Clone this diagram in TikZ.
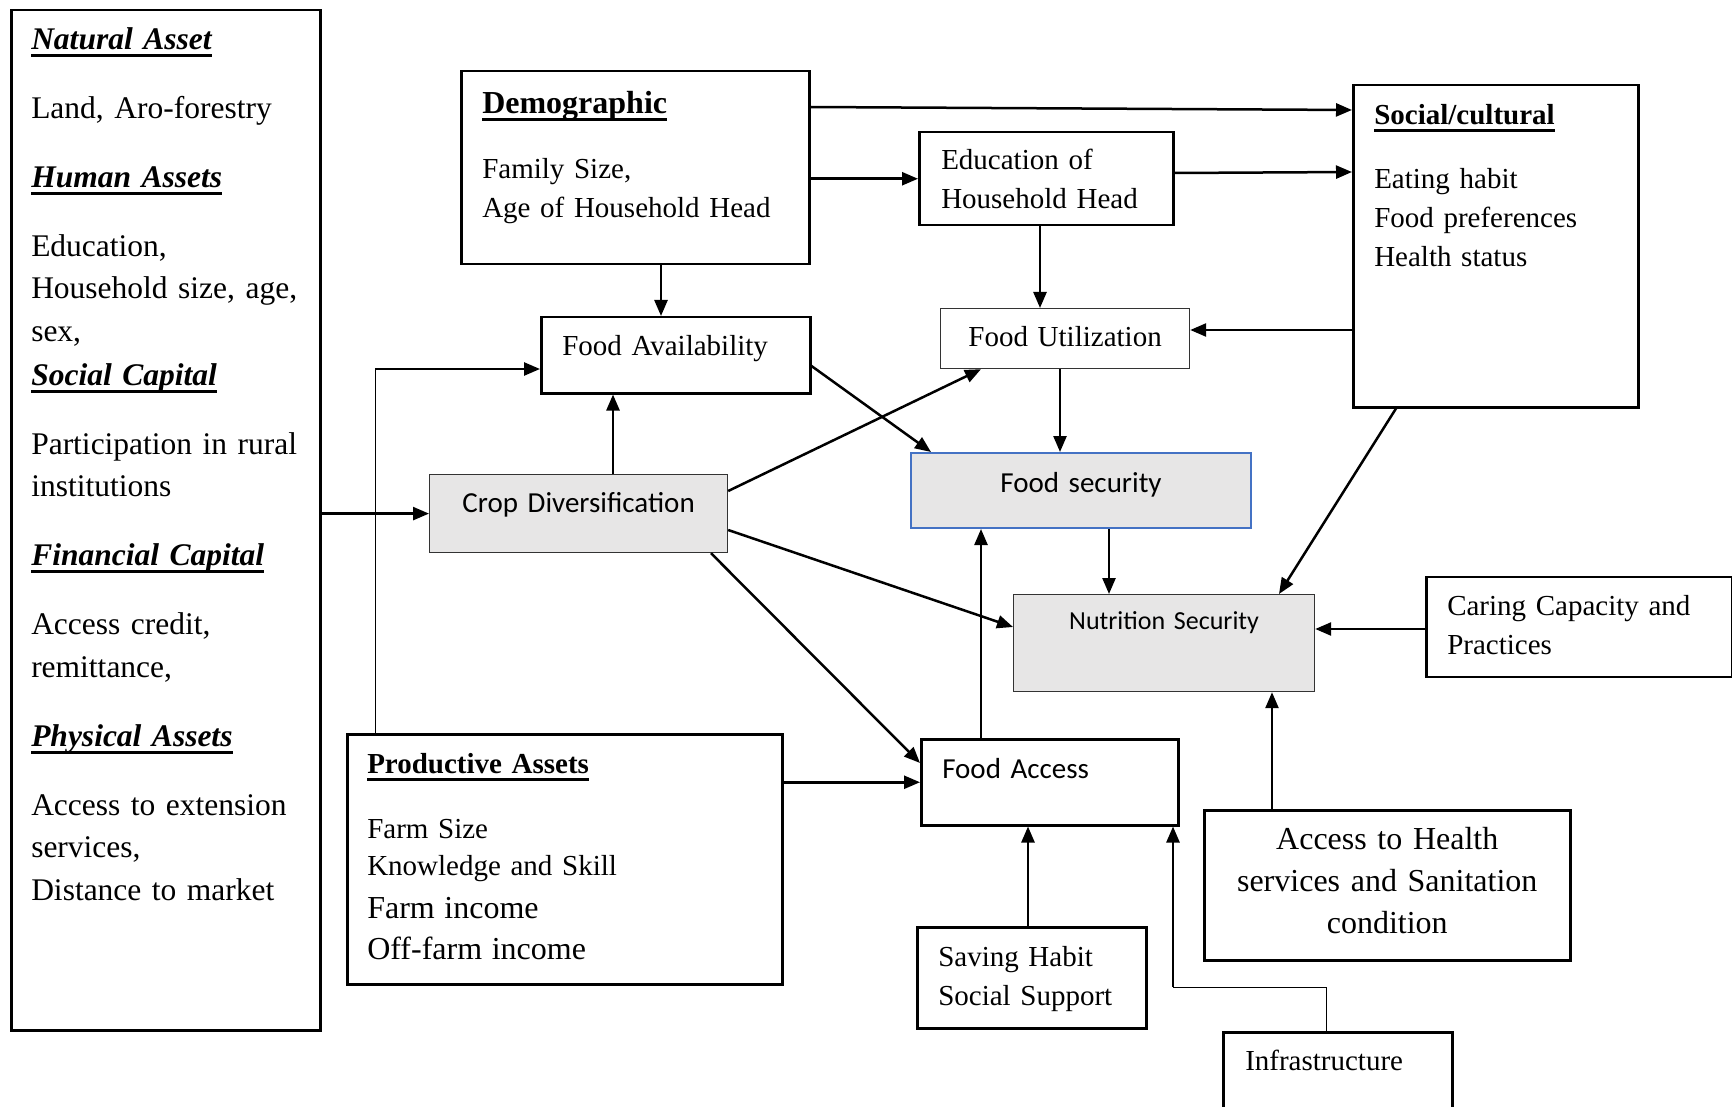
\documentclass[tikz,border=0pt]{standalone}
\usepackage{fontspec}
\setmainfont{Liberation Serif}
\newfontfamily\calib{Carlito}
\usetikzlibrary{arrows.meta}
\definecolor{boxgray}{HTML}{E7E6E6}
\definecolor{secblue}{HTML}{4472C4}
\newcommand\ulbox[1]{\leavevmode\setbox0\hbox{#1}\rlap{\rule[-7.3pt]{\wd0}{2.8pt}}\box0}
\newcommand\headit[1]{{\bfseries\itshape\ulbox{#1}}}
\newcommand\headbf[1]{{\bfseries\ulbox{#1}}}
\tikzset{box/.style={draw,line width=2.5pt,anchor=north west,align=left,inner ysep=0pt,inner xsep=21pt,font=\fontsize{29}{39}\selectfont},
  thinbox/.style={box,line width=1.2pt,draw=black!80,align=center,inner xsep=8pt},
  shade/.style={thinbox,fill=boxgray,font=\calib\fontsize{29}{39}\selectfont},
  keybox/.style={shade,draw=secblue,line width=2pt},
  arr/.style={-{Triangle[length=16pt,width=13pt]},line width=2.5pt},
  feed/.style={line width=1pt}}
\begin{document}
\begin{tikzpicture}[x=1pt,y=-1pt]
\useasboundingbox (0,0) rectangle (1732,1107);
\node[box,inner xsep=20pt,text width=269pt,text height=39pt,text depth=981pt,font=\fontsize{31.5}{42.5}\selectfont] (assets) at (10,9)
 {\headit{Natural Asset}\\[26.5pt]
  Land, Aro-forestry\\[26.5pt]
  \headit{Human Assets}\\[26.5pt]
  Education,\\
  \mbox{Household size, age,}\\
  sex,\\[1.5pt]
  \headit{Social Capital}\\[26.5pt]
  \mbox{Participation in rural}\\
  institutions\\[26.5pt]
  \headit{Financial Capital}\\[26.5pt]
  Access credit,\\
  remittance,\\[26.5pt]
  \headit{Physical Assets}\\[26.5pt]
  \mbox{Access to extension}\\
  services,\\
  Distance to market};
\node[box,text width=306pt,text height=42pt,text depth=151pt] (demo) at (460,70)
 {{\fontsize{32}{39}\selectfont\headbf{Demographic}}\\[26pt]
  Family Size,\\
  Age of Household Head};
\node[box,inner xsep=22pt,text width=210pt,text height=37pt,text depth=56pt] (edu) at (918,131) {Education of\\Household Head};
\node[box,text width=243pt,text height=39pt,text depth=283pt] (social) at (1352,84)
 {\headbf{Social/cultural}\\[25pt]
  Eating habit\\
  Food preferences\\
  Health status};
\node[box,text width=227pt,text height=38pt,text depth=38pt] (avail) at (540,316) {Food Availability};
\node[thinbox,text width=233pt,text height=38pt,text depth=22pt] (util) at (940,308) {Food Utilization};
\node[shade,text width=282pt,text height=38pt,text depth=40pt] (crop) at (429,474) {Crop Diversification};
\node[keybox,text width=324pt,text height=39pt,text depth=36pt] (fsec) at (910,452) {Food security};
\node[shade,text width=285pt,text height=35pt,text depth=62pt,font=\calib\fontsize{26}{36}\selectfont] (nutri) at (1013,594) {Nutrition Security};
\node[box,text width=264pt,text height=38.5pt,text depth=61.5pt] (caring) at (1425,575.5) {Caring Capacity and\\Practices};
\node[box,text width=215pt,text height=39pt,text depth=47pt,font=\calib\fontsize{29}{39}\selectfont] (access) at (920,738) {Food Access};
\node[box,inner xsep=20pt,text width=395pt,text height=39pt,text depth=211pt,font=\fontsize{29}{37.5}\selectfont] (prod) at (346,733)
 {\headbf{Productive Assets}\\[27.5pt]
  Farm Size\\
  Knowledge and Skill\\[5pt]
  {\fontsize{32}{37.5}\selectfont Farm income}\\[4pt]
  {\fontsize{32}{37.5}\selectfont Off-farm income}};
\node[box,text width=187pt,text height=39pt,text depth=62pt] (save) at (916,926) {Saving Habit\\Social Support};
\node[box,align=center,inner xsep=10pt,text width=346pt,text height=39pt,text depth=111pt,font=\fontsize{32}{42}\selectfont] (health) at (1203,809)
 {Access to Health\\services and Sanitation\\condition};
\node[box,inner xsep=22pt,text width=185pt,text height=38pt,text depth=112pt] (infra) at (1222,1031) {Infrastructure};
\coordinate (prodbend) at (375,369);
\coordinate (infrabend) at (1173,987);
\draw[arr] (assets.east |- crop.west) -- (crop.west);
\draw[arr] (demo.east |- 0,107) -- (social.west |- 0,110);
\draw[arr] (demo.east |- edu.west) -- (edu.west);
\draw[arr] (edu.east |- 0,173) -- (social.west |- 0,172);
\draw[arr] (demo.south -| 661,0) -- (avail.north -| 661,0);
\draw[arr] (edu.south -| 1040,0) -- (util.north -| 1040,0);
\draw[arr] (social.west |- 0,330) -- (util.east |- 0,330);
\draw[feed] (prod.north -| prodbend) -- (prodbend);
\draw[arr] (prodbend) -- (avail.west |- prodbend);
\draw[arr] (crop.north -| 613,0) -- (avail.south -| 613,0);
\draw[arr] (avail.east |- 0,366) -- (fsec.north -| 931,0);
\draw[arr] (crop.east |- 0,491) -- (util.south -| 981,0);
\draw[arr] (util.south -| 1060,0) -- (fsec.north -| 1060,0);
\draw[arr] (fsec.south -| 1109,0) -- (nutri.north -| 1109,0);
\draw[arr] (crop.east |- 0,530) -- (nutri.west |- 0,627);
\draw[arr] (crop.south -| 711,0) -- (access.west |- 0,763);
\draw[arr] (social.south -| 1396,0) -- (nutri.north -| 1279,0);
\draw[arr] (caring.west |- 0,629) -- (nutri.east |- 0,629);
\draw[arr] (access.north -| 981,0) -- (fsec.south -| 981,0);
\draw[arr] (prod.east |- access.west) -- (access.west);
\draw[arr] (save.north -| 1028,0) -- (access.south -| 1028,0);
\draw[arr] (health.north -| 1272,0) -- (nutri.south -| 1272,0);
\draw[feed] (infra.north -| 1326,0) -- (1326,987) -- (infrabend);
\draw[arr] (infrabend) -- (access.south -| infrabend);
\end{tikzpicture}
\end{document}
